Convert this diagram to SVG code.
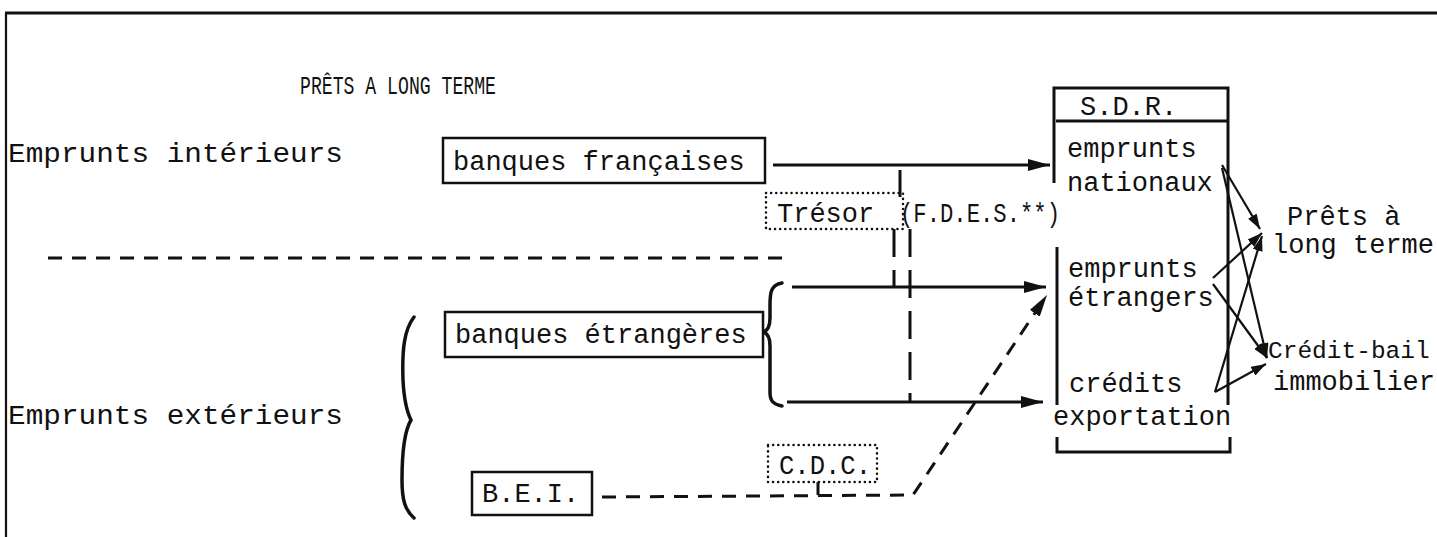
<svg xmlns="http://www.w3.org/2000/svg" width="1437" height="537" viewBox="0 0 1437 537">
<defs>
<style>
.t{font-family:"Liberation Mono","DejaVu Sans Mono",monospace;font-size:27px;fill:#111}
.title{font-size:25px}
.small{font-size:24.5px}
.box{fill:none;stroke:#111;stroke-width:2.5}
.dot{fill:none;stroke:#111;stroke-width:2.5;stroke-dasharray:0.1 5;stroke-linecap:round}
.ln{fill:none;stroke:#111;stroke-width:3}
.thin{fill:none;stroke:#111;stroke-width:2.2}
.dash{stroke-dasharray:14 10}
.vdash{stroke-dasharray:28 13}
.brace{fill:none;stroke:#111;stroke-width:3.5;stroke-linecap:round}
</style>
<marker id="ah" markerUnits="userSpaceOnUse" markerWidth="24" markerHeight="12" refX="22" refY="6" orient="auto">
<path d="M0,0 L22,6 L0,12 z" fill="#111"/>
</marker>
<marker id="ahs" markerUnits="userSpaceOnUse" markerWidth="16" markerHeight="10" refX="15" refY="5" orient="auto">
<path d="M0,0 L15,5 L0,10 z" fill="#111"/>
</marker>
</defs>
<rect width="1437" height="537" fill="#fff"/>

<g id="frame">
<line x1="5" y1="13" x2="1437" y2="13" class="ln"/>
<line x1="6" y1="13" x2="6" y2="537" class="thin"/>
</g>

<g id="title"><text x="300" y="94" class="t title" textLength="196" lengthAdjust="spacingAndGlyphs">PRÊTS A LONG TERME</text></g>
<g id="label-interieurs"><text x="8" y="162" class="t" textLength="335" lengthAdjust="spacingAndGlyphs">Emprunts intérieurs</text></g>
<g id="label-exterieurs"><text x="8" y="424" class="t" textLength="335" lengthAdjust="spacingAndGlyphs">Emprunts extérieurs</text></g>

<g id="separator"><line x1="48" y1="258" x2="785" y2="258" class="ln dash"/></g>

<g id="banques-francaises">
<rect x="443" y="138" width="322" height="45" class="box"/>
<text x="453" y="170" class="t">banques françaises</text>
</g>

<g id="tresor">
<rect x="766" y="193" width="137" height="36" class="dot"/>
<text x="777" y="222" class="t">Trésor</text>
<text x="900" y="222" class="t" textLength="160" lengthAdjust="spacingAndGlyphs">(F.D.E.S.**)</text>
</g>

<g id="banques-etrangeres">
<rect x="445" y="312" width="318" height="45" class="box"/>
<text x="455" y="343" class="t">banques étrangères</text>
<path d="M782,283 C771,285 770,292 770,305 L770,318 C770,328 767,331 763,332 C767,333 770,336 770,346 L770,392 C770,400 772,404 782,406" class="brace"/>
</g>

<g id="brace-exterieurs">
<path d="M414,317 C404,330 402,350 403,380 C404,400 407,412 411,420 C405,430 402,450 402,480 C402,500 405,510 414,518" class="brace"/>
</g>

<g id="bei">
<rect x="472" y="472" width="120" height="43" class="box"/>
<text x="482" y="502" class="t">B.E.I.</text>
</g>

<g id="cdc">
<rect x="768" y="445" width="109" height="37" class="dot"/>
<text x="779" y="474" class="t" textLength="92" lengthAdjust="spacingAndGlyphs">C.D.C.</text>
</g>

<g id="sdr">
<polyline points="1054,183 1054,88 1228,88 1228,405" class="ln"/>
<line x1="1056" y1="121" x2="1228" y2="121" class="ln"/>
<line x1="1057" y1="247" x2="1057" y2="405" class="ln"/>
<polyline points="1057,437 1057,452 1230,452 1230,437" class="ln"/>
<text x="1080" y="115" class="t">S.D.R.</text>
<text x="1067" y="157" class="t">emprunts</text>
<text x="1067" y="191" class="t">nationaux</text>
<text x="1068" y="277" class="t">emprunts</text>
<text x="1068" y="306" class="t">étrangers</text>
<text x="1069" y="392" class="t">crédits</text>
<text x="1053" y="425" class="t">exportation</text>
</g>

<g id="prets-long-terme">
<text x="1287" y="225" class="t">Prêts à</text>
<text x="1272" y="253" class="t">long terme</text>
</g>

<g id="credit-bail">
<text x="1268" y="358" class="t small">Crédit-bail</text>
<text x="1273" y="390" class="t">immobilier</text>
</g>

<g id="connectors">
<line x1="773" y1="165" x2="1050" y2="165" class="ln" marker-end="url(#ah)"/>
<line x1="792" y1="287" x2="1046" y2="287" class="ln" marker-end="url(#ah)"/>
<line x1="787" y1="402" x2="1043" y2="402" class="ln" marker-end="url(#ah)"/>
<line x1="900" y1="170" x2="900" y2="197" class="ln"/>
<line x1="894" y1="229" x2="894" y2="287" class="ln vdash"/>
<line x1="910" y1="229" x2="910" y2="402" class="ln vdash"/>
<polyline points="602,497 913,495 1047,295" class="ln dash" marker-end="url(#ah)"/>
<line x1="818" y1="482" x2="818" y2="495" class="ln"/>
<line x1="1222" y1="165" x2="1260" y2="229" class="thin" marker-end="url(#ahs)"/>
<line x1="1222" y1="168" x2="1267" y2="358" class="thin" marker-end="url(#ahs)"/>
<line x1="1213" y1="278" x2="1262" y2="233" class="thin" marker-end="url(#ahs)"/>
<line x1="1213" y1="284" x2="1267" y2="358" class="thin" marker-end="url(#ahs)"/>
<line x1="1215" y1="392" x2="1262" y2="236" class="thin" marker-end="url(#ahs)"/>
<line x1="1215" y1="392" x2="1266" y2="364" class="thin" marker-end="url(#ahs)"/>
</g>
</svg>
